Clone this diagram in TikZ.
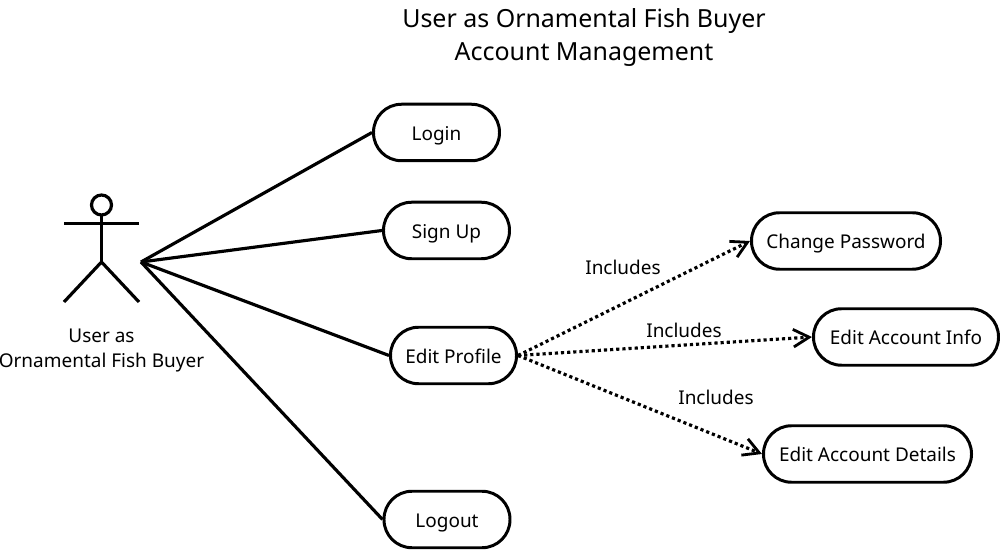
\documentclass[tikz,border=0pt]{standalone}
\usepackage{fontspec}
\setmainfont{Noto Sans}
\usetikzlibrary{arrows.meta}
\tikzset{
    usecase/.style={draw, line width=1.7pt, fill=white, rounded corners=0.56cm, minimum width=2.52cm, minimum height=1.13cm, inner sep=0pt, text height=0.32cm, text depth=0cm, font=\fontsize{10.8}{13}\selectfont},
    assoc/.style={line width=1.8pt},
    incl/.style={line width=1.8pt, dash pattern=on 1.8pt off 1.7pt, -{Straight Barb[length=9pt,width=10pt,line width=1.6pt]}},
    tag/.style={font=\fontsize{10.8}{14}\selectfont, inner sep=0pt}
}
\begin{document}
\begin{tikzpicture}
        \useasboundingbox (0,0) rectangle (20,11);

        \node[font=\fontsize{14.2}{18.8}\selectfont, align=center, inner sep=0pt] (title) at (11.68,10.25) {User as Ornamental Fish Buyer\\Account Management};

        % Actor
        \begin{scope}[line width=1.8pt]
            \draw (2.03,6.9) circle [radius=0.2cm];
            \draw (2.03,6.7) -- (2.03,5.76);
            \draw (1.28,6.53) -- (2.78,6.53);
            \draw (1.28,4.96) -- (2.03,5.76) -- (2.78,4.96);
        \end{scope}
        \node[tag, align=center] (actor) at (2.03,3.99) {User as\\Ornamental Fish Buyer};
        \coordinate (hub) at (2.82,5.76);

        % Casos de uso
        \node[usecase] (login) at (8.73,8.35) {Login};
        \node[usecase] (signup) at (8.93,6.39) {Sign Up};
        \node[usecase] (profile) at (9.07,3.89) {Edit Profile};
        \node[usecase] (logout) at (8.94,0.61) {Logout};

        \node[usecase, minimum width=3.78cm] (password) at (16.92,6.18) {Change Password};
        \node[usecase, minimum width=3.7cm] (info) at (18.12,4.26) {Edit Account Info};
        \node[usecase, minimum width=4.16cm] (details) at (17.35,1.92) {Edit Account Details};

        \foreach \target in {login,signup,profile,logout} {
            \draw[assoc] (hub) -- (\target.west);
        }

        % Flechas
        \foreach \target in {password,info,details} {
            \draw[incl] (profile.east) -- (\target.west);
        }

        \node[tag] (inclA) at (12.46,5.66) {Includes};
        \node[tag] (inclB) at (13.68,4.4) {Includes};
        \node[tag] (inclC) at (14.32,3.06) {Includes};
    \end{tikzpicture}
\end{document}
